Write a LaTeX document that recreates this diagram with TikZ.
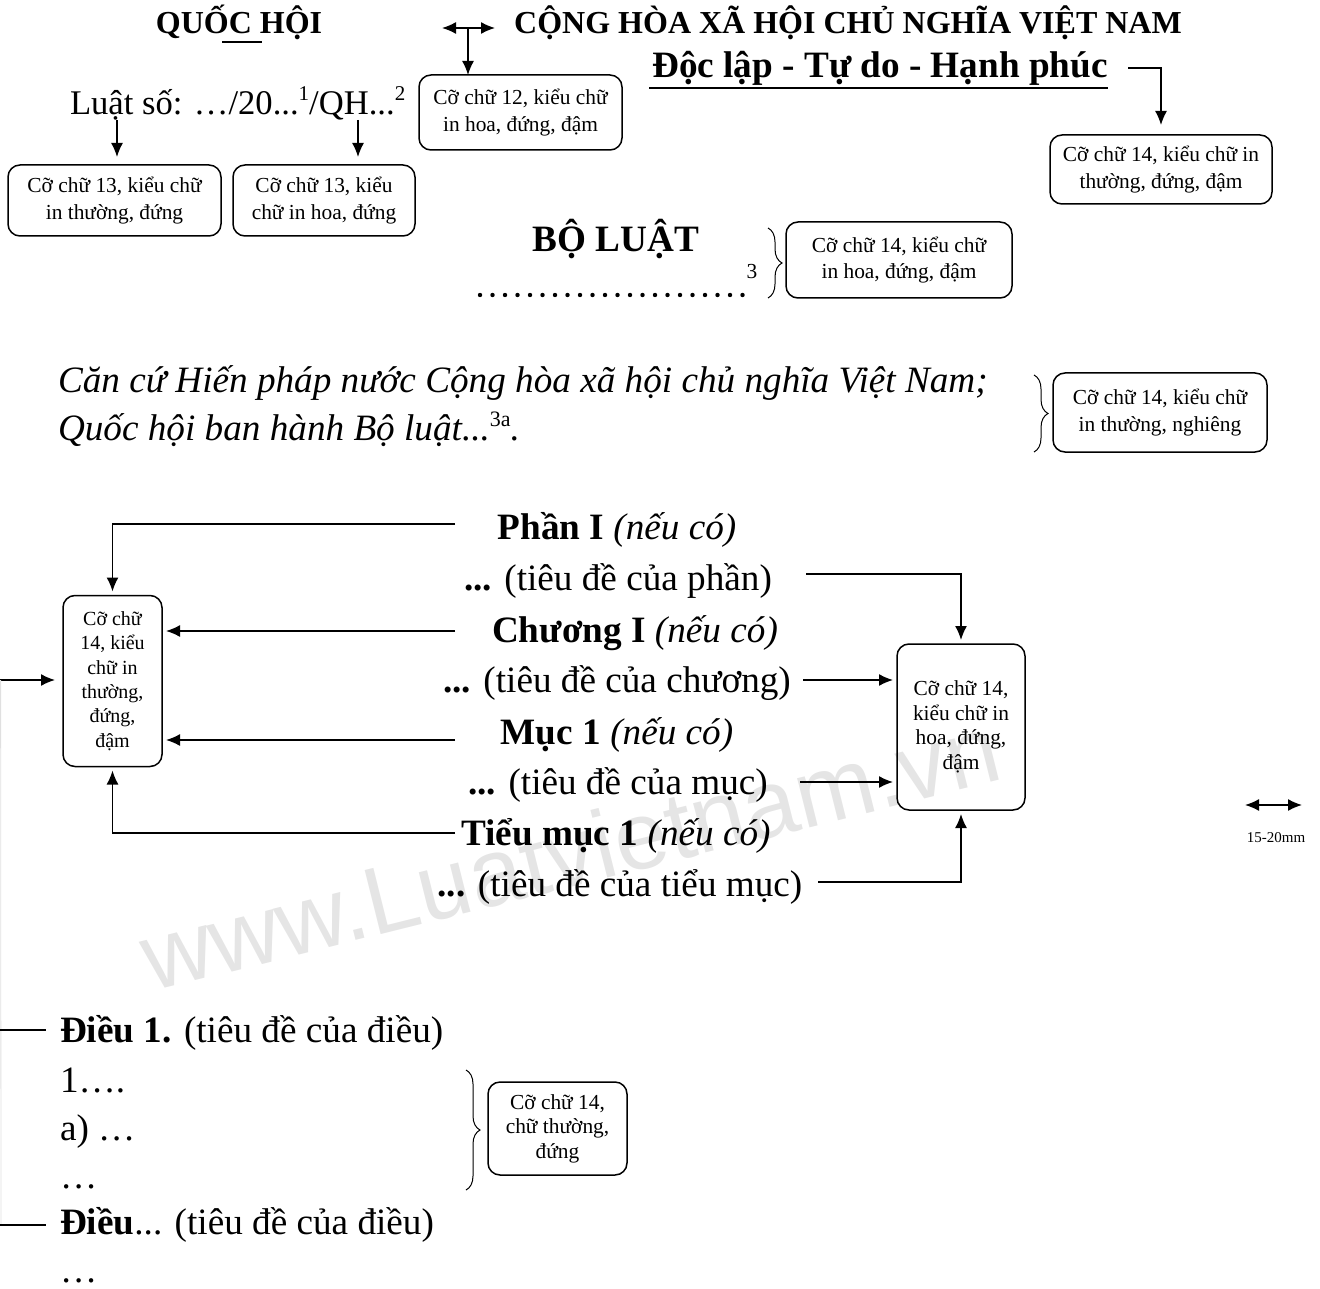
\documentclass[tikz,border=0pt]{standalone}
\usepackage{fontspec}
\setmainfont{Liberation Serif}
\setsansfont{Liberation Sans}
\usetikzlibrary{arrows.meta,decorations.pathreplacing}
\newcommand{\fsbody}{\fontsize{18.6}{22}\selectfont}
\newcommand{\fsmid}{\fontsize{17.3}{21}\selectfont}
\newcommand{\fshead}{\fontsize{16}{19}\selectfont}
\newcommand{\fsbox}{\fontsize{10.7}{13.3}\selectfont}
\newcommand{\fssmall}{\fontsize{10}{12.2}\selectfont}
\newcommand{\fstight}{\fontsize{10.7}{12.3}\selectfont}

\begin{document}
\begin{tikzpicture}[x=0.5pt,y=-0.5pt,line width=0.75pt]
  \tikzstyle{every node} = [inner sep=0pt, outer sep=0pt];
  \tikzstyle{hint} = [draw, rounded corners=6pt, align=center, font=\fsbox];
  \tikzstyle{body} = [font=\fsbody, anchor=base];
  \tikzstyle{arr} = [-{Latex[length=7pt,width=6pt]}];
  \tikzstyle{both} = [{Latex[length=7pt,width=6pt]}-{Latex[length=7pt,width=6pt]}];
  \tikzstyle{curly} = [decorate, decoration={brace, amplitude=7pt}, line width=0.5pt];
  \useasboundingbox (0,0) rectangle (1320,1288);

  \node[font=\sffamily\fontsize{48}{48}\selectfont, text=black!10, rotate=14] (wm) at (570,852) {www.Luatvietnam.vn};

  \node[body, font=\fshead\bfseries] (qh) at (239,34) {QUỐC HỘI};
  \node[body, font=\fshead\bfseries] (ch) at (848,34) {CỘNG HÒA XÃ HỘI CHỦ NGHĨA VIỆT NAM};
  \node[body, font=\fsbody\bfseries] (dl) at (880,78) {Độc lập - Tự do - Hạnh phúc};
  \node[body, font=\fsmid, anchor=base west] (ls) at (70,115) {Luật số: …/20...{\fontsize{10.5}{11}\selectfont\raisebox{7pt}{1}}/QH...{\fontsize{10.5}{11}\selectfont\raisebox{7pt}{2}}};
  \draw[line width=0.6pt] (222,42) -- (262,42);
  \draw ([xshift=-1.5pt,yshift=-1pt]dl.south west) -- ([yshift=-1pt]dl.south east);

  \node[hint, minimum width=101.5pt, minimum height=37.5pt] (b12) at (520.5,112.5) {Cỡ chữ 12, kiểu chữ\\in hoa, đứng, đậm};
  \node[hint, minimum width=106.5pt, minimum height=35.5pt] (b13a) at (114.5,200.5) {Cỡ chữ 13, kiểu chữ\\in thường, đứng};
  \node[hint, minimum width=91pt, minimum height=35.5pt] (b13b) at (324,200.5) {Cỡ chữ 13, kiểu\\chữ in hoa, đứng};
  \node[hint, minimum width=111pt, minimum height=34.5pt] (b14a) at (1161,169.5) {Cỡ chữ 14, kiểu chữ in\\thường, đứng, đậm};
  \node[hint, minimum width=113pt, minimum height=38pt] (b14b) at (899,260) {Cỡ chữ 14, kiểu chữ\\in hoa, đứng, đậm};
  \node[hint, minimum width=107pt, minimum height=39.5pt] (b14c) at (1160,412.5) {Cỡ chữ 14, kiểu chữ\\in thường, nghiêng};
  \node[hint, font=\fssmall, minimum width=49.5pt, minimum height=85.5pt] (bleft) at (112.5,681) {Cỡ chữ\\14, kiểu\\chữ in\\thường,\\đứng,\\đậm};
  \node[hint, font=\fstight, minimum width=64pt, minimum height=83pt] (bright) at (961,727) {Cỡ chữ 14,\\kiểu chữ in\\hoa, đứng,\\đậm};
  \node[hint, font=\fstight, minimum width=69.5pt, minimum height=46.5pt] (bdieu) at (557.5,1128.5) {Cỡ chữ 14,\\chữ thường,\\đứng};

  \coordinate (dA) at (442,28);
  \coordinate (dB) at (495,28);
  \coordinate (dM) at (468,28);
  \draw[both] (dA) -- (dB);
  \draw[arr] (dM) -- (dM |- b12.north);
  \coordinate (lsA) at (117,120);
  \coordinate (lsB) at (358,120);
  \draw[arr, shorten >=4pt] (lsA) -- (lsA |- b13a.north);
  \draw[arr, shorten >=4pt] (lsB) -- (lsB |- b13b.north);
  \coordinate (dlR) at (1128,68);
  \draw[arr, shorten >=5pt] (dlR) -| (b14a.north);

  \node[body, font=\fsbody\bfseries] (bl) at (616,252) {BỘ LUẬT};
  \foreach \i in {0,...,21}
    \fill (480+12.5*\i,295) circle[radius=1.1pt];
  \node[font=\fsbox] (sup3) at (752,272) {3};
  \draw[curly] (768,228) -- (768,298);

  \node[body, font=\fsbody\itshape, anchor=base west] (cc1) at (58,393) {Căn cứ Hiến pháp nước Cộng hòa xã hội chủ nghĩa Việt Nam;};
  \node[body, font=\fsbody\itshape, anchor=base west] (cc2) at (58,440) {Quốc hội ban hành Bộ luật...{\upshape\fontsize{11}{11}\selectfont\raisebox{7pt}{3a}}.};
  \draw[curly] (1034,375) -- (1034,452);

  \node[body] (ph1) at (617,539) {\textbf{Phần I} \textit{(nếu có)}};
  \node[body] (ph2) at (618,590) {\textbf{...} (tiêu đề của phần)};
  \node[body] (cg1) at (635,642) {\textbf{Chương I} \textit{(nếu có)}};
  \node[body] (cg2) at (617,692) {\textbf{...} (tiêu đề của chương)};
  \node[body] (mc1) at (617,744) {\textbf{Mục 1} \textit{(nếu có)}};
  \node[body] (mc2) at (618,794) {\textbf{...} (tiêu đề của mục)};
  \node[body] (tm1) at (616,845) {\textbf{Tiểu mục 1} \textit{(nếu có)}};
  \node[body] (tm2) at (620,896) {\textbf{...} (tiêu đề của tiểu mục)};

  \coordinate (phL) at (455,524);
  \coordinate (cgL) at (455,631);
  \coordinate (mcL) at (455,740);
  \coordinate (tmL) at (455,833);
  \coordinate (phR) at (806,574);
  \coordinate (cgR) at (803,680);
  \coordinate (mcR) at (800,782);
  \coordinate (tmR) at (818,882);
  \draw[arr, shorten >=2pt] (phL) -| (bleft.north);
  \draw[arr, shorten >=2pt] (cgL) -- (cgL -| bleft.east);
  \draw[arr, shorten >=2pt] (mcL) -- (mcL -| bleft.east);
  \draw[arr, shorten >=2pt] (tmL) -| (bleft.south);
  \draw[arr, shorten >=2pt] (phR) -| (bright.north);
  \draw[arr, shorten >=2pt] (cgR) -- (cgR -| bright.west);
  \draw[arr, shorten >=2pt] (mcR) -- (mcR -| bright.west);
  \draw[arr, shorten >=2pt] (tmR) -| (bright.south);

  \coordinate (mmA) at (1245,805);
  \coordinate (mmB) at (1302,805);
  \draw[both] (mmA) -- (mmB);
  \node[font=\fontsize{7.5}{8}\selectfont] (mm) at (1276,838) {15-20mm};

  \node[body, anchor=base west] (d1) at (60,1042) {\textbf{Điều 1.} (tiêu đề của điều)};
  \node[body, anchor=base west] (k1) at (60,1092) {1….};
  \node[body, anchor=base west] (pa) at (60,1140) {a) …};
  \node[body, anchor=base west] (dt1) at (60,1188) {…};
  \node[body, anchor=base west] (dn) at (60,1234) {\textbf{Điều}... (tiêu đề của điều)};
  \node[body, anchor=base west] (dt2) at (60,1282) {…};
  \draw[curly] (466,1070) -- (466,1190);

  \coordinate (edgeT) at (0,680);
  \coordinate (edgeB) at (1,1225);
  \coordinate (d1L) at (0,1030);
  \coordinate (dnL) at (0,1225);
  \draw[arr, shorten >=4pt] (edgeT) -- (edgeT -| bleft.west);
  \draw[black!12, line width=0.4pt] ([xshift=0.3pt]edgeT) -- (edgeB);
  \draw[shorten >=7pt] (d1L) -- (d1L -| d1.west);
  \draw[shorten >=7pt] (dnL) -- (dnL -| dn.west);
\end{tikzpicture}
\end{document}
